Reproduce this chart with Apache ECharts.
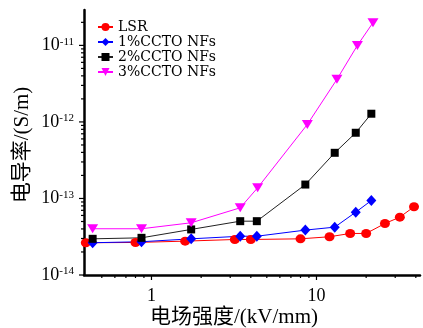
<!DOCTYPE html>
<html><head><meta charset="utf-8">
<script src="https://cdn.jsdelivr.net/npm/echarts@6/dist/echarts.min.js"></script>
<style>html,body{margin:0;padding:0;background:#fff}#c{width:423px;height:328px}</style>
</head><body><div id="c"></div>
<script>
const seriesNames = ['LSR', '1%CCTO NFs', '2%CCTO NFs', '3%CCTO NFs'];
const lsrField = [0.4, 0.8, 1.6, 3.2, 4, 8, 12, 16, 20, 26, 32, 39];
const lsrValues = [2.64e-14, 2.66e-14, 2.77e-14, 2.91e-14, 2.91e-14, 2.97e-14, 3.16e-14, 3.49e-14, 3.49e-14, 4.71e-14, 5.7e-14, 7.8e-14];
const ccto1Field = [0.44, 0.87, 1.74, 3.45, 4.35, 8.56, 12.9, 17.3, 21.5];
const ccto1Values = [2.64e-14, 2.72e-14, 2.97e-14, 3.21e-14, 3.21e-14, 3.86e-14, 4.22e-14, 6.62e-14, 9.4e-14];
const ccto2Field = [0.44, 0.87, 1.74, 3.45, 4.35, 8.56, 12.9, 17.3, 21.5];
const ccto2Values = [2.97e-14, 3.06e-14, 3.94e-14, 5.05e-14, 5.05e-14, 1.52e-13, 3.95e-13, 7.22e-13, 1.28e-12];
const ccto3Field = [0.44, 0.87, 1.74, 3.45, 4.4, 8.8, 13.3, 17.7, 22];
const ccto3Values = [4.02e-14, 4.02e-14, 4.81e-14, 7.55e-14, 1.38e-13, 9.27e-13, 3.6e-12, 1.0e-11, 1.98e-11];
const xMajorTicks = [1, 10];
const xMinorTicks = [0.5, 0.6, 0.7, 0.8, 0.9, 2, 3, 4, 5, 6, 7, 8, 9, 20, 30, 40];
const yMajorTicks = [1e-14, 1e-13, 1e-12, 1e-11];
const yMinorTicks = [2e-14, 3e-14, 4e-14, 5e-14, 6e-14, 7e-14, 8e-14, 9e-14,
  2e-13, 3e-13, 4e-13, 5e-13, 6e-13, 7e-13, 8e-13, 9e-13,
  2e-12, 3e-12, 4e-12, 5e-12, 6e-12, 7e-12, 8e-12, 9e-12, 2e-11];
const xAxisTitle = '电场强度/(kV/mm)';
const yAxisTitle = '电导率/(S/m)';

const serif = "'Liberation Serif','Noto Sans CJK SC',serif";

function pairs(xs, ys) { return xs.map((x, i) => [x, ys[i]]); }

function xTicks(vals, len) {
  return {
    type: 'custom', silent: true, z: 5, clip: false,
    data: vals.map(v => [v, 1e-13]),
    renderItem: (params, api) => {
      const p = api.coord([api.value(0), api.value(1)]);
      const cs = params.coordSys;
      const y0 = cs.y + cs.height;
      return { type: 'line', shape: { x1: p[0], y1: y0, x2: p[0], y2: y0 + len }, style: { stroke: '#000', lineWidth: 1.2 } };
    }
  };
}
function yTicks(vals, len) {
  return {
    type: 'custom', silent: true, z: 5, clip: false,
    data: vals.map(v => [1, v]),
    renderItem: (params, api) => {
      const p = api.coord([api.value(0), api.value(1)]);
      const cs = params.coordSys;
      const x0 = cs.x;
      return { type: 'line', shape: { x1: x0, y1: p[1], x2: x0 - len, y2: p[1] }, style: { stroke: '#000', lineWidth: 1.2 } };
    }
  };
}
function isPow10(v) { const l = Math.log10(v); return Math.abs(l - Math.round(l)) < 1e-6; }

const chart = echarts.init(document.getElementById('c'), null, { renderer: 'canvas' });
chart.setOption({
  animation: false,
  backgroundColor: '#fff',
  grid: { left: 84, right: 0, top: 10, bottom: 53 },
  legend: {
    orient: 'vertical', left: 92, top: 15, itemWidth: 15, itemHeight: 10, itemGap: 1,
    data: seriesNames,
    textStyle: { fontFamily: 'DejaVu Serif', fontSize: 14, color: '#000', lineHeight: 14 }
  },
  xAxis: {
    type: 'log', logBase: 10, min: 0.39, max: 42.4,
    axisLine: { lineStyle: { color: '#000', width: 2.5 } },
    axisTick: { show: false },
    splitLine: { show: false },
    axisLabel: {
      margin: 12, color: '#000', fontFamily: serif, fontSize: 18,
      formatter: v => isPow10(v) ? String(Math.round(v)) : ''
    }
  },
  yAxis: {
    type: 'log', logBase: 10, min: 1e-14, max: 2.9e-11,
    axisLine: { lineStyle: { color: '#000', width: 2.5 } },
    axisTick: { show: false },
    splitLine: { show: false },
    axisLabel: {
      margin: 10, color: '#000',
      formatter: v => isPow10(v) ? '{b|10}{s|' + Math.round(Math.log10(v)) + '}' : '',
      rich: {
        b: { fontFamily: serif, fontSize: 18, color: '#000', lineHeight: 18 },
        s: { fontFamily: serif, fontSize: 11, color: '#000', verticalAlign: 'top', lineHeight: 11 }
      }
    }
  },
  graphic: [
    { type: 'text', x: 234, y: 317, style: { text: xAxisTitle, font: "21px " + serif, fill: '#000', align: 'center', verticalAlign: 'middle' } },
    { type: 'text', x: 22, y: 145, rotation: Math.PI / 2, style: { text: yAxisTitle, font: "21px " + serif, fill: '#000', align: 'center', verticalAlign: 'middle' } }
  ],
  series: [
    { name: seriesNames[0], type: 'line', data: pairs(lsrField, lsrValues), symbol: 'circle', symbolSize: [10, 9],
      itemStyle: { color: '#ff0000' }, lineStyle: { color: '#ff0000', width: 1 } },
    { name: seriesNames[1], type: 'line', data: pairs(ccto1Field, ccto1Values), symbol: 'diamond', symbolSize: [10, 11],
      itemStyle: { color: '#0000ff' }, lineStyle: { color: '#0000ff', width: 1 } },
    { name: seriesNames[2], type: 'line', data: pairs(ccto2Field, ccto2Values), symbol: 'rect', symbolSize: [8, 8],
      itemStyle: { color: '#000000' }, lineStyle: { color: '#222222', width: 1 } },
    { name: seriesNames[3], type: 'line', data: pairs(ccto3Field, ccto3Values), symbol: 'triangle', symbolRotate: 180, symbolSize: [11, 9],
      itemStyle: { color: '#ff00ff' }, lineStyle: { color: '#ff00ff', width: 1 } },
    xTicks(xMajorTicks, 5), xTicks(xMinorTicks, 3),
    yTicks(yMajorTicks, 5), yTicks(yMinorTicks, 3)
  ]
});
</script>
</body></html>
